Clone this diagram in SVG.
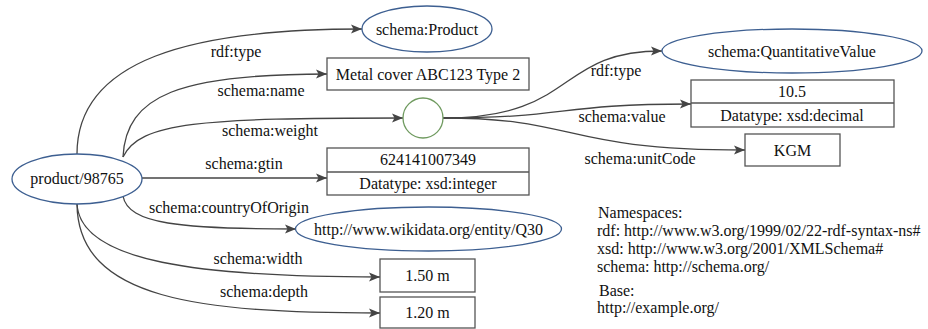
<svg xmlns="http://www.w3.org/2000/svg" width="928" height="329" viewBox="0 0 928 329">
<defs>
<marker id="arr" markerUnits="userSpaceOnUse" markerWidth="12" markerHeight="10" refX="11" refY="5" orient="auto">
<path d="M0,0.5 L11,5 L0,9.5 L2.5,5 z" fill="#444"/>
</marker>
<style>
text{font-family:"Liberation Serif","Times New Roman",serif;font-size:16px;fill:#111}
.c{text-anchor:middle}
.uri{fill:#fff;stroke:#3d5f91;stroke-width:1.3}
.lit{fill:#fff;stroke:#555;stroke-width:1.3}
.blank{fill:#fff;stroke:#6f9a5f;stroke-width:1.3}
.e{fill:none;stroke:#444;stroke-width:1.3;marker-end:url(#arr)}
</style>
</defs>
<rect width="928" height="329" fill="#fff"/>
<g id="connectors">
<path class="e" d="M77,154 C77,60 190,29 362,29"/>
<path class="e" d="M123,157 C126,95 180,74 327,74"/>
<path class="e" d="M123,157 C140,122 200,118 403,118"/>
<path class="e" d="M142,178 L327,178"/>
<path class="e" d="M123,196 C128,224 180,229 296,229"/>
<path class="e" d="M77,204 C80,262 200,277 380,277"/>
<path class="e" d="M77,204 C78,300 200,313 380,313"/>
<path class="e" d="M443,118 C578,118 555,51 662,51"/>
<path class="e" d="M443,118 C570,118 555,104 691,104"/>
<path class="e" d="M443,118 C580,118 560,150 745,150"/>
<text class="c" x="236" y="57">rdf:type</text>
<text class="c" x="261" y="96">schema:name</text>
<text class="c" x="270" y="136">schema:weight</text>
<text class="c" x="244" y="169">schema:gtin</text>
<text class="c" x="229" y="213">schema:countryOfOrigin</text>
<text class="c" x="258" y="264">schema:width</text>
<text class="c" x="264" y="297">schema:depth</text>
<text class="c" x="616" y="76">rdf:type</text>
<text class="c" x="622" y="122">schema:value</text>
<text class="c" x="640" y="164">schema:unitCode</text>
</g>
<g id="product">
<ellipse class="uri" cx="77" cy="179" rx="65" ry="25"/>
<text class="c" x="77" y="184">product/98765</text>
</g>
<g id="schemaProduct">
<ellipse class="uri" cx="427" cy="29" rx="65" ry="23"/>
<text class="c" x="427" y="34.5">schema:Product</text>
</g>
<g id="name">
<rect class="lit" x="327" y="58" width="202" height="32"/>
<text class="c" x="428" y="80">Metal cover ABC123 Type 2</text>
</g>
<g id="blank">
<circle class="blank" cx="423" cy="118" r="20"/>
</g>
<g id="gtin">
<rect class="lit" x="327" y="148" width="202" height="47"/>
<line class="lit" x1="327" y1="172" x2="529" y2="172"/>
<text class="c" x="428" y="165">624141007349</text>
<text class="c" x="428" y="189">Datatype: xsd:integer</text>
</g>
<g id="country">
<ellipse class="uri" cx="428.5" cy="229" rx="133" ry="22"/>
<text class="c" x="428.5" y="235">http://www.wikidata.org/entity/Q30</text>
</g>
<g id="width">
<rect class="lit" x="380" y="259" width="95" height="33"/>
<text class="c" x="427.5" y="281">1.50 m</text>
</g>
<g id="depth">
<rect class="lit" x="380" y="297" width="95" height="31"/>
<text class="c" x="427.5" y="318">1.20 m</text>
</g>
<g id="qv">
<ellipse class="uri" cx="792" cy="51" rx="130" ry="22"/>
<text class="c" x="792" y="57">schema:QuantitativeValue</text>
</g>
<g id="value">
<rect class="lit" x="691" y="80" width="203" height="47"/>
<line class="lit" x1="691" y1="103" x2="894" y2="103"/>
<text class="c" x="792" y="97">10.5</text>
<text class="c" x="792" y="121">Datatype: xsd:decimal</text>
</g>
<g id="unit">
<rect class="lit" x="745" y="134" width="95" height="32"/>
<text class="c" x="792.5" y="156">KGM</text>
</g>
<g id="namespaces">
<text x="598" y="218">Namespaces:</text>
<text x="597" y="236">rdf: http://www.w3.org/1999/02/22-rdf-syntax-ns#</text>
<text x="597" y="254">xsd: http://www.w3.org/2001/XMLSchema#</text>
<text x="597" y="272">schema: http://schema.org/</text>
<text x="599" y="296">Base:</text>
<text x="597" y="313">http://example.org/</text>
</g>
</svg>
